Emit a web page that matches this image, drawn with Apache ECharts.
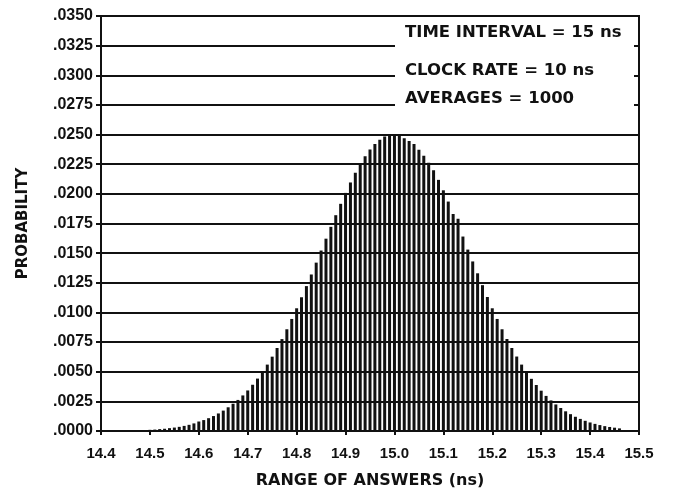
<!DOCTYPE html>
<html>
<head>
<meta charset="utf-8">
<script src="https://cdn.jsdelivr.net/npm/echarts@6/dist/echarts.min.js"></script>
<style>html,body{margin:0;padding:0;background:#fff}#c{width:677px;height:489px}</style>
</head>
<body>
<div id="c"></div>
<script>
// Answer values (ns), spaced 0.01 ns
const answers = [
  14.50,14.51,14.52,14.53,14.54,14.55,14.56,14.57,14.58,14.59,
  14.60,14.61,14.62,14.63,14.64,14.65,14.66,14.67,14.68,14.69,
  14.70,14.71,14.72,14.73,14.74,14.75,14.76,14.77,14.78,14.79,
  14.80,14.81,14.82,14.83,14.84,14.85,14.86,14.87,14.88,14.89,
  14.90,14.91,14.92,14.93,14.94,14.95,14.96,14.97,14.98,14.99,
  15.00,15.01,15.02,15.03,15.04,15.05,15.06,15.07,15.08,15.09,
  15.10,15.11,15.12,15.13,15.14,15.15,15.16,15.17,15.18,15.19,
  15.20,15.21,15.22,15.23,15.24,15.25,15.26,15.27,15.28,15.29,
  15.30,15.31,15.32,15.33,15.34,15.35,15.36,15.37,15.38,15.39,
  15.40,15.41,15.42,15.43,15.44,15.45,15.46
];
// Probability
const probability = [
  0.00010,0.00012,0.00016,0.00019,0.00024,0.00029,0.00035,0.00043,0.00052,0.00064,
  0.00080,0.00092,0.00108,0.00126,0.00148,0.00172,0.00200,0.00230,0.00262,0.00300,
  0.00342,0.00390,0.00442,0.00498,0.00560,0.00627,0.00700,0.00775,0.00858,0.00945,
  0.01035,0.01128,0.01222,0.01320,0.01420,0.01522,0.01622,0.01722,0.01820,0.01916,
  0.02008,0.02096,0.02178,0.02252,0.02318,0.02374,0.02420,0.02456,0.02484,0.02500,
  0.02505,0.02496,0.02470,0.02446,0.02420,0.02372,0.02322,0.02262,0.02200,0.02118,
  0.02030,0.01935,0.01830,0.01790,0.01640,0.01530,0.01430,0.01330,0.01230,0.01130,
  0.01035,0.00945,0.00858,0.00776,0.00700,0.00628,0.00560,0.00498,0.00440,0.00388,
  0.00340,0.00296,0.00258,0.00224,0.00194,0.00166,0.00142,0.00120,0.00102,0.00086,
  0.00072,0.00060,0.00050,0.00041,0.00034,0.00028,0.00022
];
const notes = ['TIME INTERVAL = 15 ns', 'CLOCK RATE = 10 ns', 'AVERAGES = 1000'];

const chart = echarts.init(document.getElementById('c'), null, {renderer: 'canvas'});
const ink = '#111';
const font = '"Liberation Sans", Arial, sans-serif';
const wide = '"DejaVu Sans", sans-serif';
chart.setOption({
  backgroundColor: '#fff',
  animation: false,
  grid: {left: 101, right: 38, top: 16, bottom: 58, show: true, borderColor: ink, borderWidth: 2,
    backgroundColor: 'transparent', containLabel: false, outerBoundsMode: 'none'},
  xAxis: {
    type: 'value', min: 14.4, max: 15.5, interval: 0.1,
    name: 'RANGE OF ANSWERS (ns)', nameLocation: 'middle', nameGap: 42,
    nameTextStyle: {color: ink, fontSize: 16, fontWeight: 'bold', fontFamily: wide},
    axisLine: {show: true, lineStyle: {color: ink, width: 2}},
    axisTick: {show: true, length: 4, lineStyle: {color: ink, width: 2}},
    axisLabel: {color: ink, fontSize: 15, fontWeight: 'bold', fontFamily: font, margin: 15,
      formatter: v => v.toFixed(1)},
    splitLine: {show: false}
  },
  yAxis: {
    type: 'value', min: 0, max: 0.035, interval: 0.0025,
    name: 'PROBABILITY', nameLocation: 'middle', nameGap: 70,
    nameTextStyle: {color: ink, fontSize: 15, fontWeight: 'bold', fontFamily: wide},
    axisLine: {show: true, lineStyle: {color: ink, width: 2}},
    axisTick: {show: true, length: 5, lineStyle: {color: ink, width: 2}},
    axisLabel: {color: ink, fontSize: 16, fontWeight: 'bold', fontFamily: font, margin: 8,
      formatter: v => v.toFixed(4).replace(/^0/, '')},
    splitLine: {show: true, lineStyle: {color: ink, width: 2}}
  },
  series: [{
    type: 'bar',
    data: answers.map((a, i) => [a, probability[i]]),
    barWidth: 3,
    itemStyle: {color: ink},
    z: 1
  }],
  graphic: [
    {type: 'rect', left: 395, top: 19, shape: {width: 239, height: 94}, style: {fill: '#fff'}, z: 100},
    {type: 'text', x: 405, y: 33, style: {text: notes[0], fill: ink, font: 'bold 16.5px ' + wide, verticalAlign: 'middle'}, z: 101},
    {type: 'text', x: 405, y: 71, style: {text: notes[1], fill: ink, font: 'bold 16.5px ' + wide, verticalAlign: 'middle'}, z: 101},
    {type: 'text', x: 405, y: 99, style: {text: notes[2], fill: ink, font: 'bold 16.5px ' + wide, verticalAlign: 'middle'}, z: 101}
  ]
});
</script>
</body>
</html>
